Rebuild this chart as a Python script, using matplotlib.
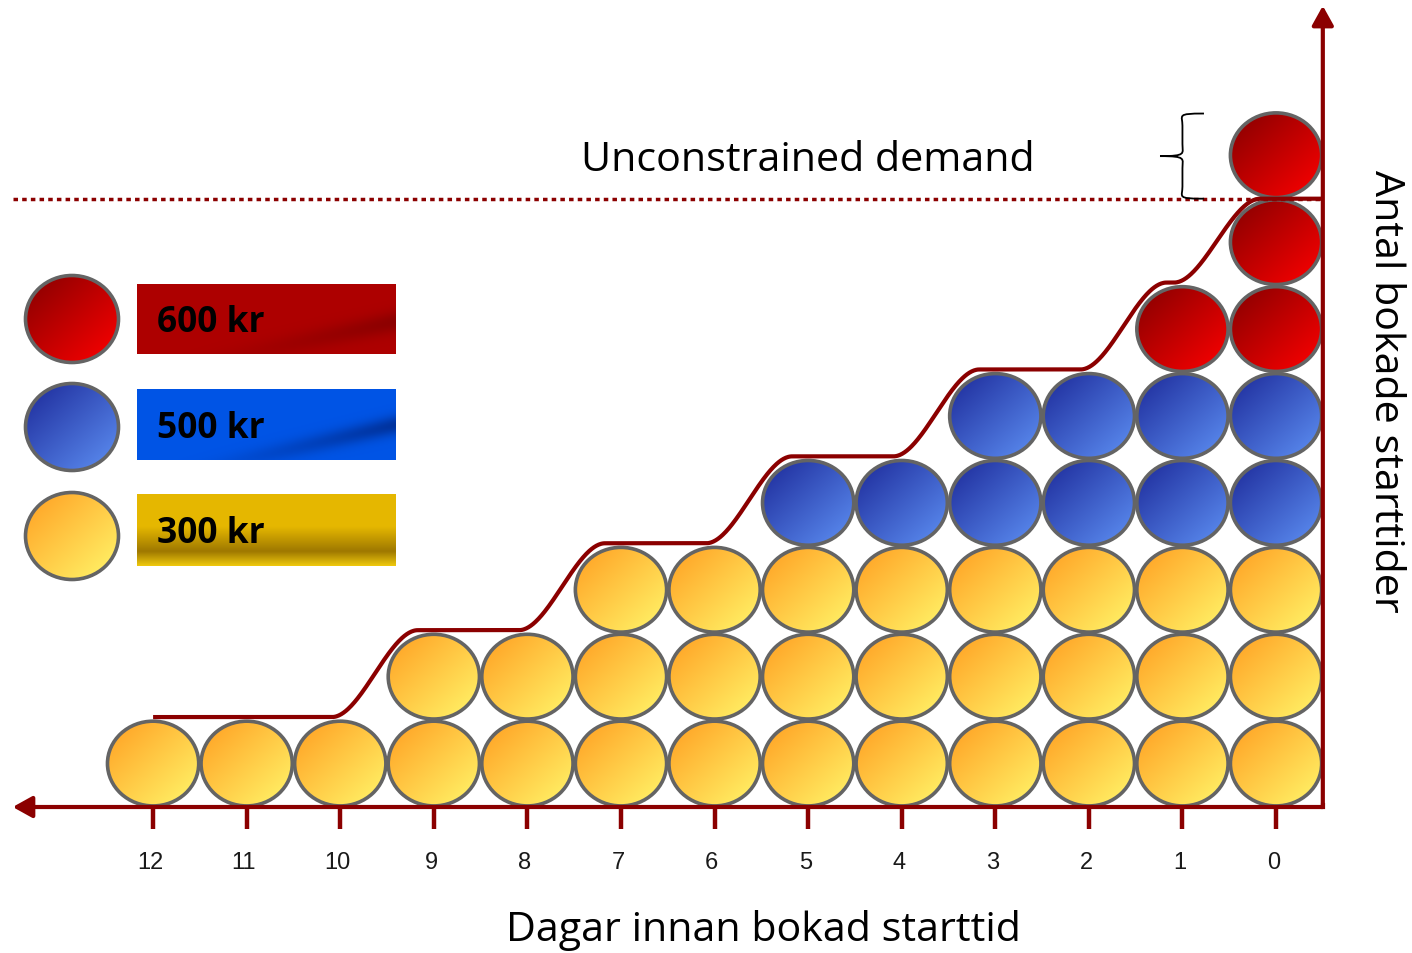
import numpy as np
import matplotlib
matplotlib.use("Agg")
import matplotlib.pyplot as plt
from matplotlib.patches import Ellipse, PathPatch
from matplotlib.path import Path

# ---------------------------------------------------------------- data
days = [12, 11, 10, 9, 8, 7, 6, 5, 4, 3, 2, 1, 0]
bookings_300 = [1, 1, 1, 2, 2, 3, 3, 3, 3, 3, 3, 3, 3]
bookings_500 = [0, 0, 0, 0, 0, 0, 0, 1, 1, 2, 2, 2, 2]
bookings_600 = [0, 0, 0, 0, 0, 0, 0, 0, 0, 0, 0, 1, 3]
capacity = 7
price_labels = ["600 kr", "500 kr", "300 kr"]
x_title = "Dagar innan bokad starttid"
y_title = "Antal bokade starttider"
demand_label = "Unconstrained demand"

# ---------------------------------------------------------------- style
DARK_RED = "#8b0000"
EDGE_GREY = "#646464"
BALL_COLORS = {
    "300": ((1.00, 0.62, 0.13), (1.00, 0.97, 0.42)),
    "500": ((0.11, 0.16, 0.60), (0.37, 0.57, 0.96)),
    "600": ((0.52, 0.00, 0.00), (1.00, 0.00, 0.00)),
}
FONT = ["Open Sans", "DejaVu Sans"]

fig = plt.figure(figsize=(14.12, 9.54), dpi=100)
ax = fig.add_axes([0, 0, 1, 1])
XLIM = (13.636, -1.453)
YLIM = (-1.680, 9.298)
ax.set_xlim(*XLIM)
ax.set_ylim(*YLIM)
ax.axis("off")


def frac_to_data(fx, fy):
    return (XLIM[0] + fx * (XLIM[1] - XLIM[0]),
            YLIM[0] + fy * (YLIM[1] - YLIM[0]))


def diagonal_gradient(c0, c1, n=64):
    u = np.linspace(0, 1, n)
    uu, vv = np.meshgrid(u, u)          # vv: 0 at top row
    t = np.clip((uu + vv) / 2.0, 0, 1)
    t = t[..., None]
    return (1 - t) * np.array(c0) + t * np.array(c1)


def ball(xc, yc, w, h, kind, z=3):
    e = Ellipse((xc, yc), w, h, facecolor="none", edgecolor=EDGE_GREY,
                linewidth=2.6, zorder=z + 0.5)
    ax.add_patch(e)
    img = diagonal_gradient(*BALL_COLORS[kind])
    # x axis is inverted, so the extent runs from high to low day values
    im = ax.imshow(img, extent=(xc + w / 2, xc - w / 2, yc - h / 2, yc + h / 2),
                   origin="upper", interpolation="bilinear", zorder=z,
                   aspect="auto")
    im.set_clip_path(e)


# ---------------------------------------------------------------- balls
BALL_W, BALL_H = 0.975, 0.975
for d, n3, n5, n6 in zip(days, bookings_300, bookings_500, bookings_600):
    kinds = ["300"] * n3 + ["500"] * n5 + ["600"] * n6
    for row, kind in enumerate(kinds):
        ball(d, row + 0.5, BALL_W, BALL_H, kind)

ax.set_xlim(*XLIM)
ax.set_ylim(*YLIM)

# ---------------------------------------------------------------- booking curve
totals = [a + b + c for a, b, c in zip(bookings_300, bookings_500, bookings_600)]
levels = [min(t, capacity) for t in totals]
pos = np.linspace(0, len(days) - 0.5, 1500)      # position from the left-most day
curve = np.full_like(pos, float(levels[0]))
half = 0.46
for i in range(len(levels) - 1):
    step = levels[i + 1] - levels[i]
    if step == 0:
        continue
    c = i + 0.5 - 0.13
    z = np.clip((pos - (c - half)) / (2 * half), 0, 1)
    curve += step * (3 * z ** 2 - 2 * z ** 3)
lift = 0.035 * np.clip(capacity - curve, 0, 1)
ax.plot(days[0] - pos, curve + lift, color=DARK_RED, lw=3.0,
        solid_capstyle="butt", zorder=6)

# ---------------------------------------------------------------- axes
x_tip = days[0] + 1.5
y_axis_x = days[-1] - 0.5
ax.plot([x_tip, y_axis_x], [capacity, capacity], color=DARK_RED, lw=2.5,
        dashes=(1.3, 1.2), dash_capstyle="butt", zorder=5)

arrow = dict(arrowstyle="-|>,head_length=0.9,head_width=0.5", color=DARK_RED,
             lw=3.0, shrinkA=0, shrinkB=0, mutation_scale=13)
ax.annotate("", xy=(x_tip, 0), xytext=(y_axis_x, 0), arrowprops=arrow,
            zorder=7)
ax.annotate("", xy=(y_axis_x, 9.22), xytext=(y_axis_x, 0), arrowprops=arrow,
            zorder=7)
ax.plot([y_axis_x, y_axis_x], [0, 0.02], color=DARK_RED, lw=3.0)

for d in days:
    ax.plot([d, d], [0, -0.25], color=DARK_RED, lw=3.2,
            solid_capstyle="butt", zorder=7)
    ax.text(d + 0.03, -0.63, str(d), ha="center", va="center", fontsize=17,
            family=["Liberation Sans", "DejaVu Sans"], color="#1a1a1a")

fx, fy = 763 / 1412, 1 - 931 / 954
ax.text(*frac_to_data(fx, fy), x_title, ha="center", va="center",
        fontsize=29.7, family=FONT)
ax.text(-1.165, 4.8, y_title, ha="center", va="center", rotation=-90,
        fontsize=29.7, family=FONT)
ax.text(days[7], capacity + 0.45, demand_label, ha="center", va="center",
        fontsize=29.7, family=FONT)

# ---------------------------------------------------------------- brace
demand_top = totals[-1]
xr, xm, xt = days[-1] + 0.77, days[-1] + 1.0, days[-1] + 1.24
y0, y1 = float(capacity), float(demand_top) - 0.02
ym = (y0 + y1) / 2
verts = [
    (xr, y1), (xm + 0.07, y1), (xm, y1 - 0.02), (xm, y1 - 0.14),
    (xm, ym + 0.14),
    (xm, ym + 0.03), (xm - 0.05, ym), (xt, ym),
    (xm - 0.05, ym), (xm, ym - 0.03), (xm, ym - 0.14),
    (xm, y0 + 0.14),
    (xm, y0 + 0.02), (xm + 0.07, y0), (xr, y0),
]
codes = [Path.MOVETO, Path.CURVE4, Path.CURVE4, Path.CURVE4,
         Path.LINETO,
         Path.CURVE4, Path.CURVE4, Path.CURVE4,
         Path.CURVE4, Path.CURVE4, Path.CURVE4,
         Path.LINETO,
         Path.CURVE4, Path.CURVE4, Path.CURVE4]
ax.add_patch(PathPatch(Path(verts, codes), facecolor="none", edgecolor="black",
                       lw=1.3, zorder=6))

# ---------------------------------------------------------------- legend


def sheen_box(x0, x1, y0, y1, kind, n=(60, 200)):
    ny, nx = n
    u = np.linspace(0, 1, nx)
    v = np.linspace(0, 1, ny)
    uu, vv = np.meshgrid(u, v)           # vv: 0 at top
    if kind == "600":
        base = np.array([0.68, 0.0, 0.0])
        dark = np.array([0.55, 0.0, 0.0])
        band = np.exp(-((vv - (0.62 + (0.9 - uu) * 0.8)) / 0.16) ** 2) * uu ** 1.5
        img = base + (dark - base) * band[..., None]
    elif kind == "500":
        base = np.array([0.0, 0.33, 0.90])
        dark = np.array([0.0, 0.20, 0.62])
        band = np.exp(-((vv - (0.55 + (0.95 - uu) * 0.85)) / 0.14) ** 2) * uu ** 1.5
        img = base + (dark - base) * band[..., None]
    else:
        top = np.array([0.90, 0.72, 0.0])
        dark = np.array([0.62, 0.47, 0.0])
        bottom = np.array([0.93, 0.78, 0.05])
        t = np.clip((vv - 0.45) / 0.35, 0, 1)
        t2 = np.clip((vv - 0.8) / 0.2, 0, 1)
        img = top + (dark - top) * t[..., None] + (bottom - dark) * t2[..., None]
    ax.imshow(np.clip(img, 0, 1), extent=(x0, x1, y0, y1), origin="upper",
              interpolation="bilinear", aspect="auto", zorder=4)


legend_rows_px = [(320, 285, 355), (428, 390, 461), (537, 495, 567)]
for label, kind, (cy, top, bot) in zip(price_labels, ["600", "500", "300"],
                                       legend_rows_px):
    cx, cyd = frac_to_data(72 / 1412, 1 - cy / 954)
    wx = 93 / 1412 * (XLIM[0] - XLIM[1])
    hy = 87 / 954 * (YLIM[1] - YLIM[0])
    ball(cx, cyd, wx, hy, kind)
    bx0, by1 = frac_to_data(137 / 1412, 1 - top / 954)
    bx1, by0 = frac_to_data(395 / 1412, 1 - bot / 954)
    sheen_box(bx0, bx1, by0, by1, kind)
    tx, _ = frac_to_data(157 / 1412, 0)
    ax.text(tx, (by0 + by1) / 2 - 0.04, label, ha="left", va="center",
            fontsize=25.5, fontweight="bold", family=FONT, color="black",
            zorder=8)

ax.set_xlim(*XLIM)
ax.set_ylim(*YLIM)
fig.savefig("out.png", dpi=100)
